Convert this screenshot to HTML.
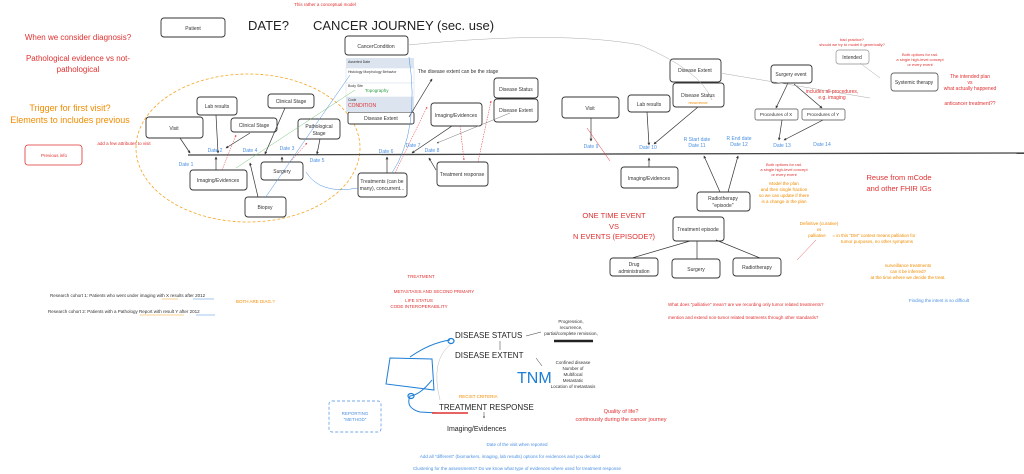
<!DOCTYPE html>
<html><head><meta charset="utf-8"><style>
html,body{margin:0;padding:0;background:#fff;width:1024px;height:474px;overflow:hidden}
svg{display:block}
text{font-family:"Liberation Sans",sans-serif}
</style></head><body>
<svg width="1024" height="474" viewBox="0 0 1024 474" xmlns="http://www.w3.org/2000/svg">
<defs><marker id="a" viewBox="0 0 6 6" refX="5" refY="3" markerWidth="4" markerHeight="4" orient="auto"><path d="M0,0L6,3L0,6z" fill="#333"/></marker>
<marker id="r" viewBox="0 0 6 6" refX="5" refY="3" markerWidth="4" markerHeight="4" orient="auto"><path d="M0,0L6,3L0,6z" fill="#e03131"/></marker>
<marker id="b" viewBox="0 0 6 6" refX="5" refY="3" markerWidth="4" markerHeight="4" orient="auto"><path d="M0,0L6,3L0,6z" fill="#4a90e2"/></marker></defs>

<!-- ellipse -->
<ellipse cx="248" cy="148" rx="112" ry="74" fill="none" stroke="#f5a623" stroke-width="0.8" stroke-dasharray="3,2"/>
<!-- timeline -->
<path d="M188,155 L1024,153" stroke="#444" stroke-width="1.3"/>

<g fill="#fff" stroke="#333" stroke-width="0.9">
<rect x="161" y="18" width="64" height="19" rx="3"/>
<rect x="345" y="36" width="63" height="19" rx="3"/>
<rect x="146" y="117" width="57" height="21" rx="3"/>
<rect x="197" y="97" width="40" height="18" rx="3"/>
<rect x="231" y="118" width="46" height="14" rx="3"/>
<rect x="268" y="94" width="46" height="14" rx="3"/>
<rect x="298" y="119" width="42" height="20" rx="3"/>
<rect x="190" y="170" width="57" height="20" rx="3"/>
<rect x="261" y="162" width="42" height="18" rx="3"/>
<rect x="245" y="197" width="41" height="20" rx="3"/>
<rect x="358" y="173" width="49" height="24" rx="3"/>
<rect x="431" y="103" width="51" height="23" rx="3"/>
<rect x="437" y="162" width="51" height="24" rx="3"/>
<rect x="494" y="78" width="44" height="20" rx="3"/>
<rect x="494" y="99" width="44" height="23" rx="3"/>
<rect x="562" y="97" width="57" height="21" rx="3"/>
<rect x="628" y="95" width="42" height="17" rx="3"/>
<rect x="670" y="59" width="51" height="23" rx="3"/>
<rect x="673" y="83" width="51" height="24" rx="3"/>
<rect x="771" y="65" width="41" height="18" rx="3"/>
<rect x="755" y="109" width="43" height="11" rx="2" stroke="#777"/>
<rect x="802" y="109" width="43" height="11" rx="2" stroke="#777"/>
<rect x="836" y="50" width="33" height="14" rx="3" stroke="#aaa"/>
<rect x="891" y="73" width="47" height="18" rx="3" stroke="#666"/>
<rect x="621" y="167" width="57" height="21" rx="3"/>
<rect x="697" y="192" width="53" height="19" rx="3"/>
<rect x="673" y="217" width="51" height="24" rx="3"/>
<rect x="610" y="258" width="48" height="18" rx="3"/>
<rect x="672" y="259" width="48" height="19" rx="3"/>
<rect x="733" y="258" width="48" height="18" rx="3"/>
<rect x="348" y="112" width="66" height="12" rx="2"/>
</g>
<rect x="25" y="145" width="57" height="20" rx="3" fill="#fff" stroke="#e03131" stroke-width="0.8"/>
<rect x="329" y="401" width="52" height="31" rx="3" fill="none" stroke="#4a90e2" stroke-width="0.7" stroke-dasharray="3,2"/>
<!-- condition table -->
<rect x="346" y="58" width="68" height="10" fill="#dbe4ef"/>
<rect x="346" y="68" width="68" height="15" fill="#fff" stroke="#dbe4ef" stroke-width="0.6"/>
<rect x="346" y="83" width="68" height="14" fill="#fff" stroke="#dbe4ef" stroke-width="0.6"/>
<rect x="346" y="97" width="68" height="15" fill="#dbe4ef"/>

<!-- connectors -->
<g stroke="#333" stroke-width="0.7" fill="none" marker-end="url(#a)">
<path d="M180,138 L190,153"/><path d="M216,115 L218,153"/><path d="M250,133 L226,148"/>
<path d="M285,108 L265,154"/><path d="M320,139 L317,154"/><path d="M216,170 L216,157"/>
<path d="M258,197 L250,163"/><path d="M282,162 L282,157"/><path d="M387,173 L387,157"/>
<path d="M452,126 L412,153"/><path d="M436,170 L429,158"/><path d="M591,118 L591,141"/>
<path d="M647,112 L649,145"/><path d="M698,107 L654,144"/><path d="M649,167 L649,158"/>
<path d="M788,83 L776,108"/><path d="M794,84 L822,108"/><path d="M782,120 L779,140"/>
<path d="M823,120 L784,140"/><path d="M720,192 L704,156"/><path d="M728,192 L738,156"/>
<path d="M409,117 L432,79"/>
</g>
<g stroke="#333" stroke-width="0.7" fill="none">
<path d="M690,241 L632,258"/><path d="M697,241 L697,259"/><path d="M716,240 L760,258"/>
</g>
<g stroke="#e03131" stroke-width="0.5" fill="none" stroke-dasharray="1.5,1" marker-end="url(#r)">
<path d="M222,170 L236,135"/><path d="M290,162 L307,143"/><path d="M395,173 L427,107"/>
<path d="M460,126 L464,160"/><path d="M478,162 L491,101"/>
</g>
<path d="M610,161 L587,128" stroke="#e03131" stroke-width="0.5"/>
<g stroke="#4a90e2" stroke-width="0.5" fill="none">
<path d="M265,198 L350,75"/><path d="M392,173 Q420,130 409,57"/><path d="M358,188 Q320,195 306,172"/>
</g>
<path d="M236,168 L355,90" stroke="#5cb85c" stroke-width="0.4"/>
<path d="M408,45 Q560,30 640,45 Q700,70 712,100 M720,73 L870,98" stroke="#aaa" stroke-width="0.5" fill="none"/>
<path d="M510,113 L437,143" stroke="#777" stroke-width="0.5" marker-end="url(#a)"/>
<path d="M860,63 L880,78" stroke="#aaa" stroke-width="0.5"/>

<!-- box labels -->
<g font-size="5" fill="#333" text-anchor="middle">
<text x="193" y="30">Patient</text><text x="376" y="48">CancerCondition</text>
<text x="174" y="130">Visit</text><text x="217" y="108">Lab results</text>
<text x="254" y="127">Clinical Stage</text><text x="291" y="103">Clinical Stage</text>
<text x="319" y="128">Pathological</text><text x="319" y="135">Stage</text>
<text x="218" y="182">Imaging/Evidences</text><text x="282" y="173">Surgery</text>
<text x="265" y="209">Biopsy</text><text x="382" y="183">Treatments (can be</text><text x="382" y="190">many), concurrent...</text>
<text x="456" y="117">Imaging/Evidences</text><text x="462" y="176">Treatment response</text>
<text x="516" y="91">Disease Status</text><text x="516" y="112">Disease Extent</text>
<text x="381" y="120">Disease Extent</text>
<text x="590" y="110">Visit</text><text x="649" y="106">Lab results</text>
<text x="695" y="72">Disease Extent</text><text x="698" y="97">Disease Status</text>
<text x="791" y="76">Surgery event</text><text x="776" y="116" font-size="4.5">Procedures of X</text><text x="823" y="116" font-size="4.5">Procedures of Y</text>
<text x="852" y="59">Intended</text><text x="914" y="84">Systemic therapy</text>
<text x="649" y="180">Imaging/Evidences</text><text x="723" y="200">Radiotherapy</text><text x="723" y="207">"episode"</text>
<text x="698" y="231">Treatment episode</text><text x="634" y="266">Drug</text><text x="634" y="273">administration</text>
<text x="696" y="271">Surgery</text><text x="757" y="269">Radiotherapy</text>
</g>
<g font-size="3.5" fill="#333"><text x="348" y="63">Asserted Date</text><text x="348" y="73">Histology Morphology Behavior</text><text x="348" y="87">Body Site</text><text x="348" y="101">Code</text></g>
<text x="365" y="92" font-size="4.5" fill="#2f9e44">Topography</text>
<text x="348" y="107" font-size="5" fill="#e03131">CONDITION</text>
<text x="698" y="104" font-size="4" fill="#f08c00" text-anchor="middle">recurrence</text>

<!-- dates -->
<g font-size="5" fill="#4a90e2" text-anchor="middle">
<text x="186" y="166">Date 1</text><text x="215" y="152">Date 2</text><text x="250" y="152">Date 4</text>
<text x="287" y="150">Date 3</text><text x="317" y="162">Date 5</text><text x="386" y="153">Date 6</text>
<text x="413" y="147">Date 7</text><text x="432" y="152">Date 8</text><text x="591" y="148">Date 9</text>
<text x="648" y="149">Date 10</text><text x="697" y="141">R Start date</text><text x="697" y="147">Date 11</text>
<text x="739" y="140">R End date</text><text x="739" y="146">Date 12</text><text x="782" y="147">Date 13</text><text x="822" y="146">Date 14</text>
</g>

<!-- titles -->
<text x="248" y="30" font-size="13" fill="#222">DATE?</text>
<text x="313" y="30" font-size="13" fill="#222">CANCER JOURNEY (sec. use)</text>
<text x="325" y="6" font-size="4.5" fill="#e03131" text-anchor="middle">This rather a conceptual model</text>
<g fill="#e03131" text-anchor="middle">
<text x="78" y="40" font-size="8">When we consider diagnosis?</text>
<text x="78" y="61" font-size="8">Pathological evidence vs not-</text>
<text x="78" y="72" font-size="8">pathological</text>
<text x="54" y="157" font-size="4.5">Previous info</text>
<text x="124" y="145" font-size="4.5">add a few attributes to visit</text>
<text x="458" y="73" font-size="5" fill="#333">The disease extent can be the stage</text>
</g>
<g fill="#f08c00" text-anchor="middle"><text x="70" y="111" font-size="9">Trigger for first visit?</text><text x="70" y="123" font-size="9">Elements to includes previous</text></g>

<!-- right notes -->
<g font-size="4" fill="#e03131" text-anchor="middle">
<text x="852" y="41">bad practice?</text><text x="852" y="46">should we try to model it generically?</text>
<text x="920" y="56">Both options for rad.</text><text x="920" y="61">a single high-level concept</text><text x="920" y="66">or every event</text>
<text x="784" y="166">Both options for rad.</text><text x="784" y="171">a single high-level concept</text><text x="784" y="176">or every event</text>
</g>
<g font-size="5" fill="#e03131" text-anchor="middle"><text x="970" y="78">The intended plan</text><text x="970" y="84">vs</text><text x="970" y="90">what actually happened</text>
<text x="970" y="105">anticancer treatment??</text><text x="832" y="93">includes all procedures,</text><text x="832" y="99">e.g. imaging</text></g>
<g font-size="4.5" fill="#f08c00" text-anchor="middle"><text x="784" y="185">Model the plan</text><text x="784" y="191">and then single fraction</text><text x="784" y="197">so we can update if there</text><text x="784" y="203">is a change in the plan</text>
<text x="819" y="225">Definitive (curative)</text><text x="819" y="231">vs</text><text x="817" y="237">palliative</text>
<text x="874" y="237">= in this "DM" context means palliation for</text><text x="877" y="243">tumor purposes, no other symptoms</text>
<text x="908" y="267">surveillance treatments</text><text x="908" y="273">can it be inferred?</text><text x="908" y="279">at the time where we decide the treat.</text>
</g>
<g font-size="7.5" fill="#e03131" text-anchor="middle"><text x="899" y="180">Reuse from mCode</text><text x="899" y="191">and other FHIR IGs</text>
<text x="614" y="218">ONE TIME EVENT</text><text x="614" y="229">VS</text><text x="614" y="239">N EVENTS (EPISODE?)</text></g>
<text x="939" y="302" font-size="4.5" fill="#4a90e2" text-anchor="middle">Finding the intent is so difficult</text>
<g font-size="4.5" fill="#e03131"><text x="668" y="306">What does "palliative" mean? are we recording only tumor related treatments?</text><text x="668" y="319">mention and extend non-tumor related treatments through other standards?</text></g>
<path d="M797,260 L816,240" stroke="#e03131" stroke-width="0.4" fill="none"/>

<!-- bottom left -->
<g font-size="4.5" fill="#333"><text x="50" y="297">Research cohort 1: Patients who went under imaging with X results after 2012</text>
<text x="48" y="313">Research cohort 2: Patients with a Pathology Report with result Y after 2012</text></g>
<text x="236" y="303" font-size="4.5" fill="#f08c00">BOTH ARE DIAG.?</text>
<path d="M162,299 L178,299 M140,315 L184,315" stroke="#f5a623" stroke-width="0.6"/>
<path d="M193,299 L214,299 M196,315 L215,315" stroke="#4a90e2" stroke-width="0.6"/>
<g font-size="4.5" fill="#e03131" text-anchor="middle"><text x="421" y="278">TREATMENT</text><text x="434" y="293">METASTASIS AND SECOND PRIMARY</text><text x="419" y="302">LIFE STATUS</text><text x="419" y="308">CODE INTEROPERABILITY</text></g>

<!-- bottom center -->
<path d="M390,358 L432,359 L434,390 L386,384 Z M410,357 Q430,343 450,340 M432,380 Q420,395 410,396 Q405,408 420,412 L438,413" stroke="#1c7ed6" stroke-width="1" fill="none"/>
<ellipse cx="451" cy="341" rx="3" ry="2.5" fill="none" stroke="#1c7ed6" stroke-width="1.2"/>
<ellipse cx="411" cy="396" rx="3" ry="2.5" fill="none" stroke="#1c7ed6" stroke-width="1.2"/>
<path d="M451,344 Q430,360 440,400" stroke="#bbb" stroke-width="0.5" fill="none"/>
<g font-size="8" fill="#222"><text x="455" y="338">DISEASE STATUS</text><text x="455" y="358">DISEASE EXTENT</text><text x="439" y="410">TREATMENT RESPONSE</text><text x="447" y="431" font-size="7">Imaging/Evidences</text></g>
<path d="M500,350 L500,341 M526,336 L541,332 M536,358 L542,366 M484,412 L484,418" stroke="#333" stroke-width="0.5" marker-end="url(#a)"/>
<g font-size="4.5" fill="#333" text-anchor="middle"><text x="571" y="323">Progression,</text><text x="571" y="329">recurrence,</text><text x="571" y="335">partial/complete remission,</text>
<text x="573" y="364">Confined disease</text><text x="573" y="370">Number of</text><text x="573" y="376">Multifocal</text><text x="573" y="382">Metastatic</text><text x="573" y="388">Location of metastasis</text></g>
<path d="M554,341 L593,341" stroke="#222" stroke-width="2.5"/>
<text x="517" y="383" font-size="16" fill="#1c7ed6">TNM</text>
<text x="459" y="398" font-size="4.5" fill="#f08c00">RECIST CRITERIA</text>
<path d="M432,413 L468,413" stroke="#e03131" stroke-width="1.5"/>
<g font-size="4.5" fill="#4a90e2" text-anchor="middle"><text x="355" y="415">REPORTING</text><text x="355" y="421">"METHOD"</text>
<text x="517" y="446">Date of the visit when reported</text><text x="510" y="458">Add all "different" (biomarkers, imaging, lab results) options for evidences and you decided</text>
<text x="517" y="470">Clustering for the assessments? Do we know what type of evidences where used for treatment response</text></g>
<g font-size="5.5" fill="#e03131" text-anchor="middle"><text x="621" y="413">Quality of life?</text><text x="621" y="421">continously during the cancer journey</text></g>
</svg>
</body></html>
